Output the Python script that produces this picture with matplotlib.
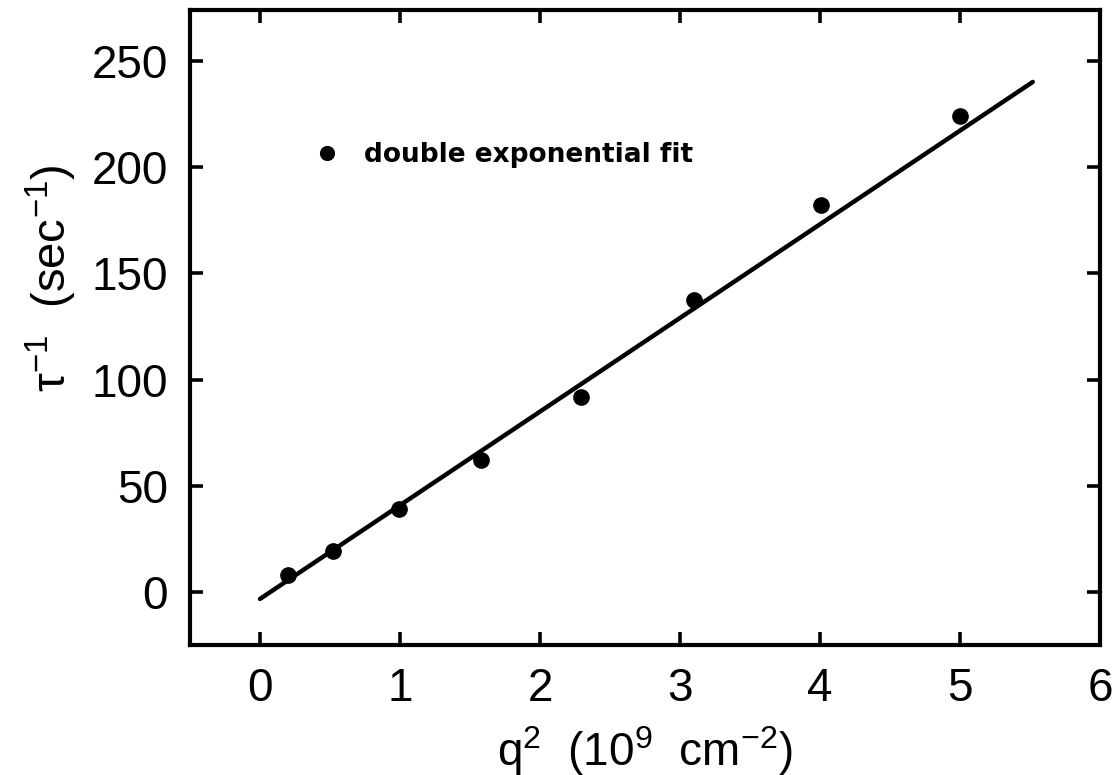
import numpy as np
import matplotlib
matplotlib.use("Agg")
from matplotlib import pyplot as plt

plt.rcParams['font.family'] = ['Liberation Sans', 'DejaVu Sans']
plt.rcParams['mathtext.fontset'] = 'custom'
plt.rcParams['mathtext.rm'] = 'Liberation Sans'
plt.rcParams['mathtext.it'] = 'Liberation Sans:italic'

# decay rate vs. squared scattering vector
q2 = [0.20, 0.52, 0.99, 1.58, 2.29, 3.10, 4.01, 5.00]
rate = [8.0, 19.3, 39.0, 62.0, 92.0, 137.5, 182.0, 224.0]

# linear fit
fit_slope = 44.1
fit_intercept = -3.3
fit_range = [0.0, 5.52]

x_ticks = [0, 1, 2, 3, 4, 5, 6]
y_ticks = [0, 50, 100, 150, 200, 250]

fig = plt.figure(figsize=(11.19, 7.75), dpi=100)
ax = fig.add_axes([190 / 1119, 130 / 775, 910 / 1119, 635 / 775])

fx = np.array(fit_range)
ax.plot(fx, fit_intercept + fit_slope * fx, color='black', lw=3.2,
        solid_capstyle='round')
ax.plot(q2, rate, 'o', color='black', ms=11, label='double exponential fit')

ax.set_xlim(-0.5, 6.0)
ax.set_ylim(-25, 274)
ax.set_xticks(x_ticks)
ax.set_yticks(y_ticks)

for side in ax.spines.values():
    side.set_linewidth(3)
ax.tick_params(direction='in', length=9.5, width=2.6, top=True, right=True,
               labelsize=33, pad=16)

ax.set_xlabel(r'q$^2$  (10$^9$  cm$^{-2}$)', fontsize=33)
ax.set_ylabel(r'$\mathrm{\tau}^{-1}$  (sec$^{-1}$)', fontsize=34)
ax.xaxis.set_label_coords(0.5, -0.125)
ax.yaxis.set_label_coords(-0.122, 0.578)

ax.legend(loc='center left', bbox_to_anchor=(0.124, 0.772), frameon=False,
          numpoints=1, handlelength=1.0, handletextpad=0.9, borderaxespad=0,
          prop={'family': 'DejaVu Sans', 'size': 19, 'weight': 'bold'},
          markerscale=0.9)

fig.savefig('out.png', dpi=100)
